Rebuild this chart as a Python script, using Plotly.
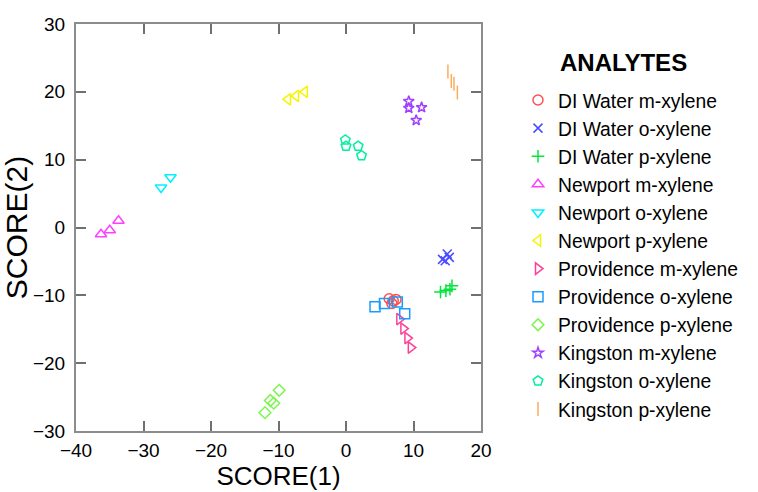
import plotly.graph_objects as go

names = ["DI Water m-xylene", "DI Water o-xylene", "DI Water p-xylene",
         "Newport m-xylene", "Newport o-xylene", "Newport p-xylene",
         "Providence m-xylene", "Providence o-xylene", "Providence p-xylene",
         "Kingston m-xylene", "Kingston o-xylene", "Kingston p-xylene"]

xs = [
    [6.4, 7.0, 7.4, 6.8],
    [14.3, 15.0, 15.3, 14.7],
    [14.0, 14.8, 15.4, 15.7],
    [-36.3, -35.0, -33.7],
    [-27.4, -26.0],
    [-8.6, -7.4, -6.1],
    [7.9, 8.5, 9.1, 9.6],
    [4.3, 5.7, 7.6, 8.7],
    [-12.0, -11.2, -10.7, -9.9],
    [9.3, 9.3, 11.2, 10.4],
    [-0.1, 0.0, 1.8, 2.3],
    [15.1, 15.6, 16.0, 16.5],
]
ys = [
    [-10.5, -10.8, -10.6, -11.2],
    [-4.7, -3.9, -4.4, -4.9],
    [-9.5, -9.3, -9.1, -8.6],
    [-1.0, -0.4, 1.0],
    [5.9, 7.4],
    [18.9, 19.4, 20.0],
    [-13.5, -14.9, -16.3, -17.7],
    [-11.7, -11.2, -11.0, -12.7],
    [-27.3, -25.5, -25.9, -24.0],
    [18.6, 17.6, 17.7, 15.8],
    [12.9, 12.0, 12.0, 10.6],
    [23.0, 21.6, 21.2, 19.9],
]
symbols = ["circle-open", "x-thin-open", "cross-thin-open",
           "triangle-up-open", "triangle-down-open", "triangle-left-open",
           "triangle-right-open", "square-open", "diamond-open",
           "star-open", "pentagon-open", "line-ns-open"]
sizes = [10, 9, 9, 10, 10, 10, 10, 10, 9, 8, 10, 10]
colors = ["#ff5050", "#4b4bff", "#00e63c",
          "#ff40ff", "#00f0ff", "#f5f500",
          "#ff4099", "#1a9cff", "#7cf550",
          "#a040ff", "#00f0a0", "#ffab5a"]

fig = go.Figure()
for i, n in enumerate(names):
    fig.add_trace(go.Scatter(
        x=xs[i], y=ys[i], mode="markers", name=n, legendgroup=n,
        marker=dict(symbol=symbols[i], size=sizes[i], color=colors[i],
                    line=dict(width=1.5, color=colors[i])),
    ))

font = "Arial, Liberation Sans, sans-serif"
axis_common = dict(
    showline=True, linecolor="#8c8c8c", linewidth=2, mirror="allticks",
    ticks="inside", ticklen=10, tickwidth=2, tickcolor="#707070",
    showgrid=False, zeroline=False, automargin=False,
    tickfont=dict(family=font, size=19, color="black"),
)
fig.update_xaxes(range=[-40, 20], dtick=10, ticklabelstandoff=1, **axis_common,
                 title=dict(text="SCORE(1)", font=dict(family=font, size=26, color="black"), standoff=4))
fig.update_yaxes(range=[-30, 30], dtick=10, ticklabelstandoff=5, **axis_common,
                 title=dict(text="SCORE(2)", font=dict(family=font, size=30, color="black"), standoff=6))

fig.add_annotation(
    x=(623 - 76) / 405, y=(431 - 63) / 407, xref="paper", yref="paper",
    text="<b>ANALYTES</b>",
    showarrow=False, font=dict(family=font, size=24, color="black"),
    xanchor="center", yanchor="middle",
)

fig.update_layout(
    width=758, height=492,
    margin=dict(l=76, r=277, t=24, b=61),
    paper_bgcolor="white", plot_bgcolor="white",
    font=dict(family=font, color="black"),
    legend=dict(
        x=(518 - 76) / 405, y=(431 - 81) / 407, xanchor="left", yanchor="top",
        font=dict(family=font, size=19.3, color="black"),
        tracegroupgap=0, itemwidth=30,
        bgcolor="rgba(0,0,0,0)",
    ),
)
fig.write_html("out.html")
